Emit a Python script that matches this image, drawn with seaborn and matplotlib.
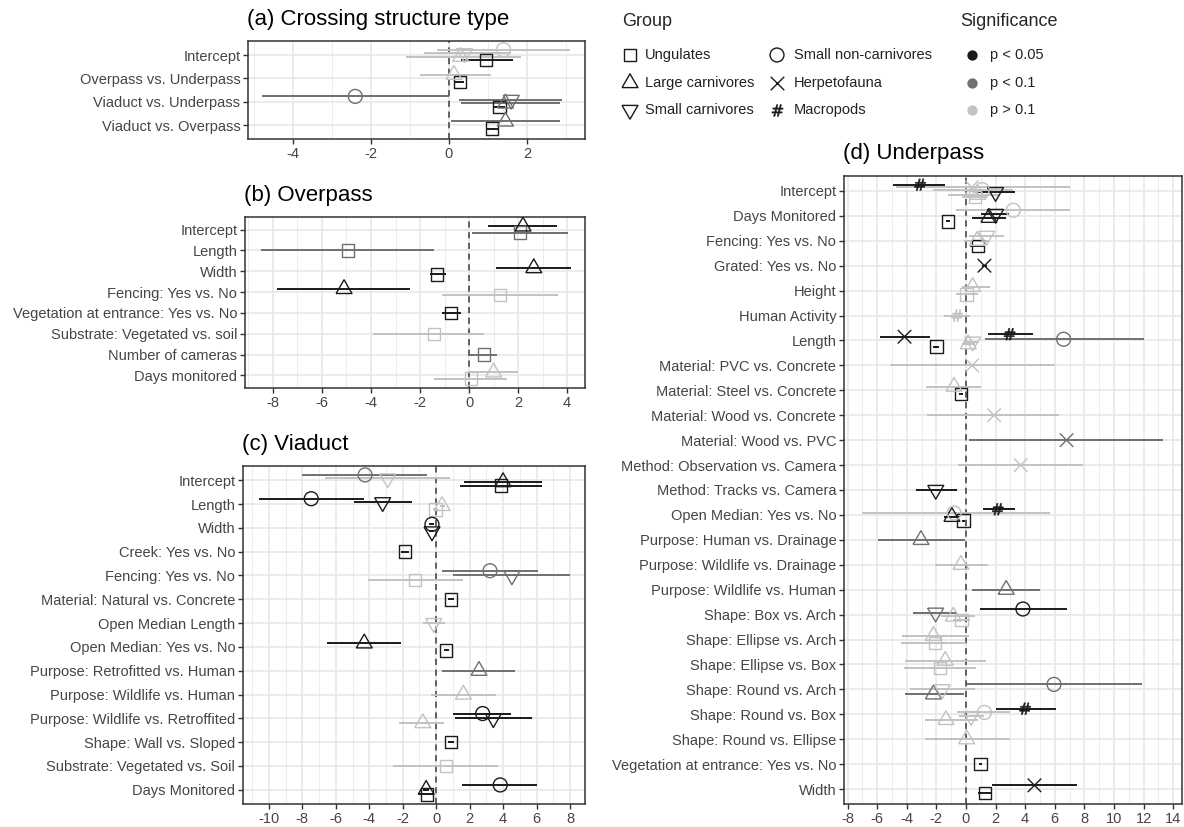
import numpy as np
import pandas as pd
import matplotlib
matplotlib.use("Agg")
import matplotlib.pyplot as plt
import seaborn as sns
from matplotlib.ticker import MultipleLocator

# ---------------- data ----------------
group_codes = ["U", "LC", "SC", "SN", "H", "M"]
group_names = ["Ungulates", "Large carnivores", "Small carnivores",
               "Small non-carnivores", "Herpetofauna", "Macropods"]
sig_labels = ["p < 0.05", "p < 0.1", "p > 0.1"]

# (a) Crossing structure type
a_terms = ["Intercept", "Overpass vs. Underpass", "Viaduct vs. Underpass", "Viaduct vs. Overpass"]
a_row = [0, 0, 0, 0, 1, 1, 2, 2, 2, 2, 3, 3]
a_grp = ["U", "LC", "SC", "SN", "U", "LC", "U", "LC", "SC", "SN", "U", "LC"]
a_est = [0.95, 0.3, 0.4, 1.4, 0.28, 0.13, 1.3, 1.45, 1.6, -2.4, 1.1, 1.45]
a_lo = [0.3, -1.1, -0.65, -0.3, 0.15, -0.75, 1.15, 0.3, 0.25, -4.8, 0.95, 0.05]
a_hi = [1.65, 1.85, 1.6, 3.1, 0.4, 1.08, 1.45, 2.85, 2.9, 0.0, 1.25, 2.85]
a_sig = [1, 3, 3, 3, 1, 3, 1, 2, 2, 2, 1, 2]

# (b) Overpass
b_terms = ["Intercept", "Length", "Width", "Fencing: Yes vs. No",
           "Vegetation at entrance: Yes vs. No", "Substrate: Vegetated vs. soil",
           "Number of cameras", "Days monitored"]
b_row = [0, 0, 1, 2, 2, 3, 3, 4, 5, 6, 7, 7]
b_grp = ["U", "LC", "U", "U", "LC", "U", "LC", "U", "U", "U", "U", "LC"]
b_est = [2.08, 2.2, -4.94, -1.3, 2.64, 1.26, -5.1, -0.74, -1.44, 0.6, 0.07, 1.0]
b_lo = [0.1, 0.78, -8.5, -1.6, 1.09, -1.1, -7.83, -1.09, -3.92, 0.0, -1.42, -0.05]
b_hi = [4.03, 3.6, -1.42, -0.95, 4.17, 3.62, -2.4, -0.34, 0.6, 1.16, 1.54, 2.0]
b_sig = [2, 1, 2, 1, 1, 3, 1, 1, 3, 2, 3, 3]

# (c) Viaduct
c_terms = ["Intercept", "Length", "Width", "Creek: Yes vs. No", "Fencing: Yes vs. No",
           "Material: Natural vs. Concrete", "Open Median Length", "Open Median: Yes vs. No",
           "Purpose: Retrofitted vs. Human", "Purpose: Wildlife vs. Human",
           "Purpose: Wildlife vs. Retroffited", "Shape: Wall vs. Sloped",
           "Substrate: Vegetated vs. Soil", "Days Monitored"]
c_row = [0, 0, 0, 0, 1, 1, 1, 1, 2, 2, 3, 4, 4, 4, 5, 6, 7, 7, 8, 9, 10, 10, 10, 11, 12, 13, 13, 13]
c_grp = ["U", "LC", "SC", "SN", "U", "LC", "SC", "SN", "SC", "SN", "U", "U", "SC", "SN",
         "U", "SC", "U", "LC", "LC", "LC", "LC", "SC", "SN", "U", "U", "U", "LC", "SN"]
c_est = [3.87, 4.0, -2.9, -4.25, -0.05, 0.35, -3.2, -7.47, -0.25, -0.25, -1.85, -1.25, 4.53, 3.22,
         0.88, -0.15, 0.6, -4.3, 2.56, 1.63, -0.8, 3.42, 2.78, 0.88, 0.6, -0.55, -0.6, 3.83]
c_lo = [1.42, 1.65, -6.65, -8.0, -0.2, 0.2, -4.9, -10.6, -0.4, -0.4, -2.1, -4.1, 1.0, 0.34,
        0.7, -0.8, 0.45, -6.5, 0.34, -0.32, -2.2, 1.1, 1.0, 0.7, -2.6, -1.07, -0.8, 1.55]
c_hi = [6.3, 6.3, 0.82, -0.54, 0.1, 0.5, -1.42, -4.3, -0.1, -0.1, -1.6, 1.6, 8.0, 6.1,
        1.05, 0.5, 0.75, -2.1, 4.74, 3.6, 0.45, 5.74, 4.5, 1.05, 3.7, -0.1, -0.4, 6.0]
c_sig = [1, 1, 3, 2, 3, 3, 1, 1, 1, 1, 1, 3, 2, 2, 1, 3, 1, 1, 2, 3, 3, 1, 1, 1, 3, 1, 1, 1]

# (d) Underpass
d_terms = ["Intercept", "Days Monitored", "Fencing: Yes vs. No", "Grated: Yes vs. No", "Height",
           "Human Activity", "Length", "Material: PVC vs. Concrete", "Material: Steel vs. Concrete",
           "Material: Wood vs. Concrete", "Material: Wood vs. PVC", "Method: Observation vs. Camera",
           "Method: Tracks vs. Camera", "Open Median: Yes vs. No", "Purpose: Human vs. Drainage",
           "Purpose: Wildlife vs. Drainage", "Purpose: Wildlife vs. Human", "Shape: Box vs. Arch",
           "Shape: Ellipse vs. Arch", "Shape: Ellipse vs. Box", "Shape: Round vs. Arch",
           "Shape: Round vs. Box", "Shape: Round vs. Ellipse", "Vegetation at entrance: Yes vs. No",
           "Width"]
d_row = [0, 0, 0, 0, 0, 0, 1, 1, 1, 1, 2, 2, 2, 3, 4, 4, 5, 6, 6, 6, 6, 6, 6, 7, 8, 8, 9, 10, 11, 12,
         13, 13, 13, 13, 14, 15, 16, 17, 17, 17, 17, 18, 18, 19, 19, 20, 20, 20, 21, 21, 21, 21, 22,
         23, 24, 24]
d_grp = ["U", "LC", "SC", "SN", "H", "M", "U", "LC", "SC", "SN", "U", "LC", "SC", "H", "U", "LC",
         "M", "U", "LC", "SC", "SN", "H", "M", "H", "U", "LC", "H", "H", "H", "SC",
         "U", "LC", "SN", "M", "LC", "LC", "LC", "U", "LC", "SC", "SN", "U", "LC", "U", "LC",
         "LC", "SC", "SN", "LC", "SC", "SN", "M", "LC", "U", "U", "H"]
d_est = [0.6, 0.8, 2.0, 1.1, 0.4, -3.1, -1.2, 1.55, 2.0, 3.2, 0.8, 0.75, 1.4, 1.25, 0.05, 0.45,
         -0.6, -2.0, 0.15, 0.45, 6.6, -4.15, 2.95, 0.42, -0.33, -0.8, 1.9, 6.8, 3.7, -2.04,
         -0.16, -0.95, -0.8, 2.15, -3.04, -0.34, 2.72, -0.3, -0.85, -2.05, 3.85, -2.1, -2.2, -1.75, -1.4,
         -2.2, -1.6, 5.95, -1.35, 0.35, 1.25, 4.0, 0.05, 0.97, 1.28, 4.63]
d_lo = [-0.3, -1.2, 0.6, -2.2, -4.7, -4.9, -1.35, 0.4, 1.0, -0.7, 0.3, -0.1, 0.2, 1.1, -0.7, -0.3,
        -1.5, -2.2, -0.3, -0.2, 1.3, -5.8, 1.5, -5.1, -0.45, -2.7, -2.6, 0.24, -0.55, -3.38,
        -0.3, -1.5, -7.0, 1.15, -5.97, -2.1, 0.42, -0.9, -1.7, -3.6, 0.95, -4.4, -4.3, -4.2, -4.1,
        -4.1, -3.8, 0.05, -2.8, -0.5, -0.6, 2.0, -2.8, 0.85, 0.84, 1.75]
d_hi = [1.5, 2.3, 3.3, 3.2, 7.0, -1.4, -1.05, 2.7, 2.9, 7.0, 1.3, 1.6, 2.6, 1.4, 0.8, 1.6,
        0.25, -1.8, 0.6, 0.9, 12.0, -2.4, 4.5, 6.0, -0.2, 1.0, 6.3, 13.3, 7.9, -0.63,
        -0.05, -0.4, 5.7, 3.3, -0.08, 1.47, 5.0, 0.3, 0.6, -0.6, 6.8, 0.0, 0.2, 0.7, 1.35,
        -0.1, 0.6, 11.9, 0.8, 1.2, 3.0, 6.1, 2.96, 1.1, 1.75, 7.5]
d_sig = [3, 3, 1, 3, 3, 1, 1, 1, 1, 3, 1, 3, 3, 1, 3, 3, 3, 1, 3, 3, 2, 1, 1, 3, 1, 3, 3, 2, 3, 1,
         1, 1, 3, 1, 2, 3, 2, 3, 3, 2, 1, 3, 3, 3, 3, 2, 3, 2, 3, 3, 3, 1, 3, 1, 1, 1]

# ---------------- style ----------------
sns.set_theme(style="whitegrid")
plt.rcParams["font.family"] = ["Liberation Sans", "DejaVu Sans"]
plt.rcParams["axes.unicode_minus"] = False

W, H = 1184, 827
fig = plt.figure(figsize=(W / 100, H / 100), dpi=100)
fig.patch.set_facecolor("white")

pal = {"p < 0.05": "#1a1a1a", "p < 0.1": "#707070", "p > 0.1": "#c2c2c2"}
tri_up = [(-1, -0.577), (1, -0.577), (0, 1.155), (-1, -0.577)]
tri_dn = [(-1, 0.577), (1, 0.577), (0, -1.155), (-1, 0.577)]
markers = {"U": "s", "LC": tri_up, "SC": tri_dn, "SN": "o", "H": "x", "M": r"$\#$"}
sizes = {"U": 80, "LC": 175, "SC": 175, "SN": 100, "H": 95, "M": 70}
hollow = {"U", "LC", "SC", "SN"}
DODGE = 0.6
EDGE = "#333333"


def add_ax(l, t, r, b):
    return fig.add_axes([l / W, 1 - b / H, (r - l) / W, (b - t) / H])


def panel(ax, terms, row, grp, est, lo, hi, sig, xlim, title, title_xy):
    df = pd.DataFrame(dict(row=row, grp=grp, est=est, lo=lo, hi=hi,
                           sig=[sig_labels[s - 1] for s in sig]))
    df["gi"] = df["grp"].map(group_codes.index)
    df["y"] = 0.0
    for r, sub in df.groupby("row"):
        n = len(sub)
        ranks = sub["gi"].rank(method="first").astype(int) - 1
        for idx, k in ranks.items():
            df.loc[idx, "y"] = r + DODGE / 2 - DODGE / n * (k + 0.5)

    ax.set_facecolor("white")
    ax.set_axisbelow(True)
    ax.axvline(0, color="#3a3a3a", lw=1.1, ls=(0, (4, 3)), zorder=2)
    ax.hlines(df["y"], df["lo"], df["hi"], colors=df["sig"].map(pal), lw=1.4, zorder=3)
    for g in group_codes:
        sub = df[df["grp"] == g]
        if sub.empty:
            continue
        sns.scatterplot(data=sub, x="est", y="y", hue="sig", palette=pal,
                        marker=markers[g], s=sizes[g], ax=ax, legend=False,
                        zorder=4, linewidth=1.0 if g != "M" else 0.4)
        coll = ax.collections[-1]
        if g in hollow:
            cols = coll.get_facecolors()
            coll.set_edgecolors(cols)
            coll.set_facecolors("none")
        elif g == "M":
            coll.set_edgecolors(coll.get_facecolors())

    ax.set_xlim(*xlim)
    ax.set_ylim(len(terms) - 1 + 0.6, -0.6)
    ax.set_yticks(range(len(terms)))
    ax.set_yticklabels(terms)
    ax.xaxis.set_major_locator(MultipleLocator(2))
    ax.xaxis.set_minor_locator(MultipleLocator(1))
    ax.set_xlabel("")
    ax.set_ylabel("")
    ax.grid(which="major", color="#e8e8e8", lw=1.2)
    ax.grid(which="minor", axis="x", color="#ededed", lw=0.7)
    for sp in ax.spines.values():
        sp.set_visible(True)
        sp.set_color(EDGE)
        sp.set_linewidth(1.1)
    ax.tick_params(which="major", direction="out", length=3.5, width=1.0, color=EDGE,
                   labelcolor="#454545", labelsize=10.5, pad=2, bottom=True, left=True)
    ax.tick_params(which="minor", length=0)
    fig.text(title_xy[0] / W, 1 - title_xy[1] / H, title, fontsize=16,
             ha="left", va="center", color="black")


ax_a = add_ax(248, 41, 585, 139)
panel(ax_a, a_terms, a_row, a_grp, a_est, a_lo, a_hi, a_sig, (-5.15, 3.49),
      "(a) Crossing structure type", (247, 20))
ax_b = add_ax(245, 217, 585, 388)
panel(ax_b, b_terms, b_row, b_grp, b_est, b_lo, b_hi, b_sig, (-9.14, 4.73),
      "(b) Overpass", (244, 195))
ax_c = add_ax(243, 466, 585, 804)
panel(ax_c, c_terms, c_row, c_grp, c_est, c_lo, c_hi, c_sig, (-11.55, 8.9),
      "(c) Viaduct", (242, 445))
ax_d = add_ax(844, 176, 1182, 804)
panel(ax_d, d_terms, d_row, d_grp, d_est, d_lo, d_hi, d_sig, (-8.24, 14.6),
      "(d) Underpass", (843, 154))

# ---------------- legends ----------------
lax = fig.add_axes([0, 0, 1, 1], zorder=-5)
lax.set_xlim(0, W)
lax.set_ylim(H, 0)
lax.axis("off")

lax.text(622, 21, "Group", fontsize=13, ha="left", va="center")
leg_rows = [55, 83, 110]
col_x = [(630, 645), (777, 794)]
for i, (code, name) in enumerate(zip(group_codes, group_names)):
    mx, tx = col_x[i // 3]
    yy = leg_rows[i % 3]
    if code in hollow:
        lax.scatter([mx], [yy], marker=markers[code], s=sizes[code], facecolors="none",
                    edgecolors="#1a1a1a", linewidths=1.0)
    elif code == "H":
        lax.scatter([mx], [yy], marker="x", s=sizes[code], c="#1a1a1a", linewidths=1.0)
    else:
        lax.scatter([mx], [yy], marker=markers[code], s=sizes[code], c="#1a1a1a",
                    edgecolors="#1a1a1a", linewidths=0.4)
    lax.text(tx, yy, name, fontsize=10.5, ha="left", va="center", color="#222222")

lax.text(960, 21, "Significance", fontsize=13, ha="left", va="center")
for i, lab in enumerate(sig_labels):
    yy = leg_rows[i]
    lax.scatter([972], [yy], marker="o", s=55, c=pal[lab], linewidths=0)
    lax.text(990, yy, lab, fontsize=10.5, ha="left", va="center", color="#222222")

fig.savefig("out.png", dpi=100, facecolor="white")
